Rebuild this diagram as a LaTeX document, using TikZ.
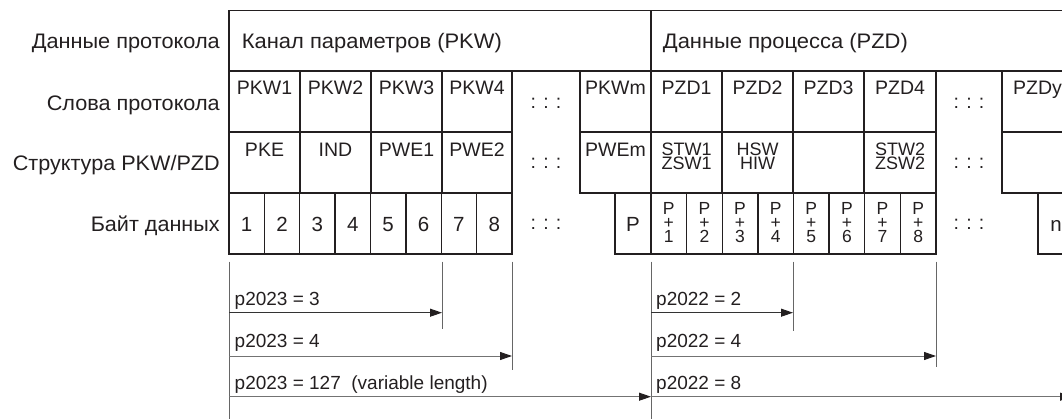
\documentclass[tikz,border=0pt]{standalone}
\usepackage{fontspec}
\usepackage{graphicx}
\setmainfont{Liberation Sans}
\usetikzlibrary{arrows.meta}
\definecolor{ink}{HTML}{231F20}
% stretch a text horizontally to a given width (in pt)
\newcommand\FitW[2]{\setbox0=\hbox{#2}\pgfmathsetmacro\FitFac{#1/\wd0*1pt}\scalebox{\FitFac}[1]{#2}}
\begin{document}
\begin{tikzpicture}[x=1pt,y=-1pt,
  cell/.style={draw=ink, line width=1.3pt, inner sep=0pt, minimum height=61pt},
  txt/.style={inner sep=0pt, text=ink, font=\fontsize{19.5}{22}\selectfont, anchor=base},
  big/.style={inner sep=0pt, text=ink, font=\fontsize{21}{24}\selectfont},
  rowlbl/.style={big, anchor=base east},
  digit/.style={inner sep=0pt, text=ink, font=\fontsize{20.5}{22}\selectfont, anchor=base},
  stackbox/.style={inner sep=0pt, text=ink, align=center, anchor=north, font=\fontsize{18}{14.6}\selectfont},
  pstack/.style={inner sep=0pt, text=ink, align=center, anchor=north, font=\fontsize{17.5}{14}\selectfont},
  dotsbox/.style={inner sep=0pt, text=ink, font=\fontsize{19.5}{22}\selectfont},
  guide/.style={draw=black!60, line width=1pt},
  arr/.style={draw=black!80, line width=1pt, -{Triangle[length=12pt,width=8pt,color=ink]}},
  arrg/.style={draw=black!55, line width=1pt, -{Triangle[length=12pt,width=8pt,color=ink]}},
  eq/.style={inner sep=0pt, text=ink, font=\fontsize{19}{22}\selectfont, anchor=base west}
]
\useasboundingbox (0,0) rectangle (1062,419);

% ---------- row labels
\node[rowlbl] (l1) at (220,49) {\FitW{188}{Данные протокола}};
\node[rowlbl] (l2) at (220,110.3) {\FitW{173}{Слова протокола}};
\node[rowlbl] (l3) at (220,170.7) {\FitW{207}{Структура PKW/PZD}};
\node[rowlbl] (l4) at (220,232) {\FitW{129}{Байт данных}};

% ---------- row 1
\node[cell, minimum width=422pt, minimum height=60.5pt] (pkw) at (440,40.75) {};
\node[cell, minimum width=449pt, minimum height=60.5pt] (pzd) at (875.5,40.75) {};
\node[big, anchor=base west] (pkwt) at (241.7,48.3) {\FitW{260}{Канал параметров (PKW)}};
\node[big, anchor=base west] (pzdt) at (662.7,48.3) {\FitW{245}{Данные процесса (PZD)}};

% ---------- row 2
\node[cell, minimum width=71pt] (pkw1) at (264.5,101.5) {};
\node[cell, minimum width=71pt] (pkw2) at (335.5,101.5) {};
\node[cell, minimum width=71pt] (pkw3) at (406.5,101.5) {};
\node[cell, minimum width=70pt] (pkw4) at (477,101.5) {};
\node[cell, minimum width=71pt] (pkwm) at (615.5,101.5) {};
\node[cell, minimum width=71pt] (pzd1) at (686.5,101.5) {};
\node[cell, minimum width=71pt] (pzd2) at (757.5,101.5) {};
\node[cell, minimum width=71pt] (pzd3) at (828.5,101.5) {};
\node[cell, minimum width=72pt] (pzd4) at (900,101.5) {};
\node[cell, minimum width=71pt] (pzdy) at (1037.5,101.5) {};
\node[txt] (tpkw1) at (264.5,95) {PKW1};
\node[txt] (tpkw2) at (335.5,95) {PKW2};
\node[txt] (tpkw3) at (406.5,95) {PKW3};
\node[txt] (tpkw4) at (477,95) {PKW4};
\node[txt] (tpkwm) at (615.5,95) {PKWm};
\node[txt] (tpzd1) at (686.5,95) {PZD1};
\node[txt] (tpzd2) at (757.5,95) {PZD2};
\node[txt] (tpzd3) at (828.5,95) {PZD3};
\node[txt] (tpzd4) at (900,95) {PZD4};
\node[txt] (tpzdy) at (1037.5,95) {PZDy};
\node[dotsbox] (d2a) at (546,103) {: : :};
\node[dotsbox] (d2b) at (969,103) {: : :};

% ---------- row 3
\node[cell, minimum width=71pt] (pke) at (264.5,162.5) {};
\node[cell, minimum width=71pt] (ind) at (335.5,162.5) {};
\node[cell, minimum width=71pt] (pwe1) at (406.5,162.5) {};
\node[cell, minimum width=70pt] (pwe2) at (477,162.5) {};
\node[cell, minimum width=71pt] (pwem) at (615.5,162.5) {};
\node[cell, minimum width=71pt] (stw1) at (686.5,162.5) {};
\node[cell, minimum width=71pt] (hsw) at (757.5,162.5) {};
\node[cell, minimum width=71pt] (emp3) at (828.5,162.5) {};
\node[cell, minimum width=72pt] (stw2) at (900,162.5) {};
\node[cell, minimum width=71pt] (empy) at (1037.5,162.5) {};
\node[txt] (tpke) at (264.5,156.7) {PKE};
\node[txt] (tind) at (335.5,156.7) {IND};
\node[txt] (tpwe1) at (406.5,156.7) {PWE1};
\node[txt] (tpwe2) at (477,156.7) {PWE2};
\node[txt] (tpwem) at (615.5,156.7) {PWEm};
\node[stackbox] (tstw1) at (686.5,142.5) {STW1\\ZSW1};
\node[stackbox] (thsw) at (757.5,142.5) {HSW\\HIW};
\node[stackbox] (tstw2) at (900,142.5) {STW2\\ZSW2};
\node[dotsbox] (d3a) at (546,163) {: : :};
\node[dotsbox] (d3b) at (969,163) {: : :};

% ---------- row 4
\foreach \i in {1,...,8}{
  \node[cell, minimum width=35.375pt] (b\i) at ({229+(\i-0.5)*35.375},223.5) {};
  \node[digit] (tb\i) at ({229+(\i-0.5)*35.375},231.7) {\i};
  \node[cell, minimum width=35.625pt] (pp\i) at ({651+(\i-0.5)*35.625},223.5) {};
  \node[pstack] (tpp\i) at ({651+(\i-0.5)*35.625},202.3) {P\\+\\\i};
}
\node[cell, minimum width=36pt] (pb) at (633,223.5) {};
\node[digit] (tpb) at (633,232) {P};
\node[cell, minimum width=36pt] (nb) at (1056,223.5) {};
\node[digit] (tnb) at (1056,231.7) {n};
\node[dotsbox] (d4a) at (546,224) {: : :};
\node[dotsbox] (d4b) at (969,224) {: : :};

% ---------- length guides
\coordinate (gl0) at (229,261.7);  \coordinate (gl1) at (229,419);
\coordinate (gr0) at (651,261.7);  \coordinate (gr1) at (651,419);
\coordinate (t10) at (442,261.7);  \coordinate (t11) at (442,329);
\coordinate (t20) at (512,261.7);  \coordinate (t21) at (512,370);
\coordinate (t30) at (793,261.7);  \coordinate (t31) at (793,331);
\coordinate (t40) at (936,261.7);  \coordinate (t41) at (936,367);
\draw[guide] (gl0) -- (gl1);
\draw[guide] (gr0) -- (gr1);
\draw[guide] (t10) -- (t11);
\draw[guide] (t20) -- (t21);
\draw[guide] (t30) -- (t31);
\draw[guide] (t40) -- (t41);

\coordinate (a1s) at (229,312.7); \coordinate (a1e) at (442,312.7);
\coordinate (a2s) at (229,356);   \coordinate (a2e) at (512,356);
\coordinate (a3s) at (229,396.7); \coordinate (a3e) at (651,396.7);
\coordinate (b1s) at (651,312.7); \coordinate (b1e) at (793,312.7);
\coordinate (b2s) at (651,356);   \coordinate (b2e) at (936,356);
\coordinate (b3s) at (651,396.7); \coordinate (b3e) at (1072,396.7);
\draw[arr]  (a1s) -- (a1e);
\draw[arrg] (a2s) -- (a2e);
\draw[arrg] (a3s) -- (a3e);
\draw[arr]  (b1s) -- (b1e);
\draw[arrg] (b2s) -- (b2e);
\draw[arrg] (b3s) -- (b3e);

\node[eq] (e1) at (234.5,306) {p2023 = 3};
\node[eq] (e2) at (234.5,348) {p2023 = 4};
\node[eq] (e3) at (234.5,389) {p2023 = 127\ \ (variable length)};
\node[eq] (f1) at (656,306) {p2022 = 2};
\node[eq] (f2) at (656,348) {p2022 = 4};
\node[eq] (f3) at (656,389) {p2022 = 8};
\end{tikzpicture}
\end{document}
